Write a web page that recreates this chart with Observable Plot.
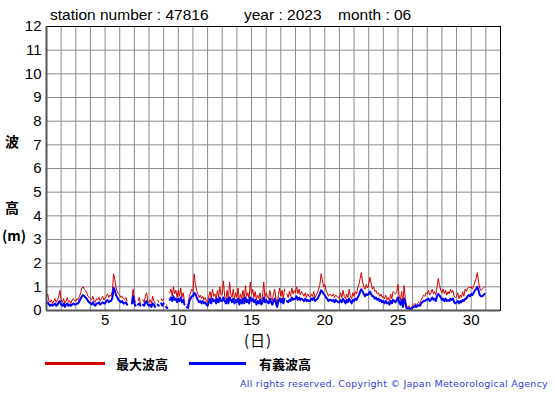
<!DOCTYPE html>
<html><head><meta charset="utf-8">
<script src="https://cdn.jsdelivr.net/npm/d3@7"></script>
<script src="https://cdn.jsdelivr.net/npm/@observablehq/plot@0.6"></script>
<style>
body{margin:0;background:#fff;}
#wrap{position:relative;width:555px;height:395px;overflow:hidden;font-family:"Liberation Sans",Arial,sans-serif;color:#000;}
.abs{position:absolute;white-space:nowrap;line-height:1;}
.cjk{font-family:"Noto Sans CJK JP","Noto Sans",sans-serif;}
</style></head><body><div id="wrap"></div>
<script>
// ---- data (2-hourly readings, June 2023, station 47816) ----
const maxWave = [
 [0.55,0.7,0.4,0.35,0.45,0.3,0.4,0.5,0.35,0.45,0.6,0.85],
 [0.45,0.35,0.5,0.3,0.4,0.55,0.35,0.4,0.3,0.45,0.5,0.4],
 [0.4,0.5,0.45,0.6,0.75,0.95,1.0,0.9,0.85,0.75,0.6,0.55],
 [0.5,0.45,0.6,0.4,0.35,0.5,0.45,0.55,0.4,0.5,0.6,0.45],
 [0.5,0.6,0.7,0.55,0.65,0.6,0.85,1.55,1.3,0.95,0.8,0.7],
 [0.65,0.55,0.6,0.5,0.45,0.55,0.4,null,null,null,0.45,0.9],
 [0.5,0.35,null,0.4,0.55,0.3,null,0.45,0.35,0.6,0.75,0.4],
 [0.35,0.45,0.3,0.6,0.4,0.3,null,0.45,0.35,null,0.5,0.4],
 [0.5,null,0.25,0.2,null,0.75,0.9,0.6,1.0,0.7,0.85,0.55],
 [0.85,0.6,0.95,0.55,0.75,0.4,null,0.25,0.2,0.6,0.75,0.9],
 [0.8,1.55,1.1,0.85,0.7,0.55,0.65,0.5,0.6,0.45,0.55,0.4],
 [0.35,0.6,0.8,0.5,0.9,0.6,0.7,0.45,0.85,0.55,1.0,0.65],
 [0.7,1.25,0.6,0.5,0.85,0.45,1.2,0.7,0.55,0.9,0.5,0.75],
 [0.55,0.95,0.4,0.7,0.5,0.85,0.45,1.05,0.6,0.75,0.5,1.2],
 [0.7,0.9,0.55,0.8,0.45,0.65,0.5,0.75,0.4,0.6,1.2,0.55],
 [0.75,0.6,0.5,0.85,0.55,0.4,0.7,0.9,0.5,0.3,0.65,0.95],
 [0.6,0.85,0.5,0.9,null,0.7,0.55,0.8,0.6,0.95,0.7,0.85],
 [0.75,1.0,0.7,0.9,0.65,0.8,0.7,0.6,0.75,0.55,0.7,0.6],
 [0.55,0.7,0.6,0.8,0.55,0.65,0.75,0.9,1.1,1.55,1.3,1.0],
 [1.1,0.85,0.75,0.6,0.7,0.65,0.6,0.7,0.55,0.65,0.6,0.55],
 [0.5,0.75,0.55,0.85,0.6,0.5,0.7,0.55,0.9,0.6,0.5,0.75],
 [0.6,0.8,0.7,0.95,1.1,1.35,1.6,1.2,1.0,0.9,1.1,0.95],
 [1.1,1.4,1.15,0.9,1.0,0.8,0.85,0.7,0.75,0.6,0.7,0.55],
 [0.6,0.5,0.65,0.45,0.55,0.4,0.7,0.5,0.8,0.75,0.7,0.8],
 [1.1,0.6,0.45,0.8,0.3,1.05,0.5,0.2,0.15,0.2,0.1,0.15],
 [0.2,0.25,0.3,0.2,0.3,0.35,0.3,0.45,0.55,0.65,0.6,0.75],
 [0.7,0.85,0.65,0.75,0.9,0.7,0.8,0.65,1.0,1.35,1.1,0.85],
 [0.75,0.9,0.7,0.85,0.65,0.8,0.7,0.9,0.75,0.85,0.6,0.55],
 [0.6,0.75,0.5,0.65,0.55,0.8,0.6,0.9,0.8,0.95,1.0,0.95],
 [1.0,0.9,1.05,1.2,1.35,1.6,1.2,0.95,0.85,0.9,0.95,1.0]
];
const sigWave = [
 [0.3,0.35,0.25,0.2,0.25,0.2,0.25,0.3,0.2,0.25,0.35,0.4],
 [0.25,0.2,0.3,0.15,0.25,0.3,0.2,0.25,0.2,0.25,0.3,0.25],
 [0.25,0.3,0.3,0.4,0.5,0.6,0.65,0.6,0.55,0.5,0.4,0.35],
 [0.3,0.25,0.35,0.25,0.2,0.3,0.3,0.35,0.25,0.3,0.35,0.3],
 [0.3,0.4,0.45,0.35,0.4,0.4,0.55,0.95,0.85,0.65,0.55,0.45],
 [0.4,0.35,0.4,0.3,0.3,0.35,0.25,null,null,null,0.3,0.6],
 [0.3,0.2,null,0.25,0.3,0.2,null,0.25,0.2,0.35,0.4,0.25],
 [0.2,0.25,0.15,0.3,0.25,0.15,null,0.25,0.2,null,0.3,0.2],
 [0.3,null,0.15,0.1,null,0.45,0.55,0.4,0.6,0.45,0.5,0.35],
 [0.5,0.4,0.55,0.35,0.45,0.25,null,0.15,0.1,0.4,0.5,0.6],
 [0.6,0.75,0.7,0.55,0.45,0.35,0.4,0.3,0.4,0.3,0.35,0.25],
 [0.2,0.35,0.5,0.3,0.5,0.4,0.45,0.3,0.5,0.35,0.55,0.4],
 [0.4,0.55,0.4,0.3,0.5,0.3,0.55,0.45,0.35,0.5,0.3,0.45],
 [0.35,0.5,0.25,0.45,0.3,0.5,0.3,0.55,0.35,0.45,0.3,0.55],
 [0.4,0.5,0.35,0.45,0.25,0.4,0.3,0.45,0.25,0.35,0.55,0.35],
 [0.45,0.35,0.3,0.5,0.35,0.25,0.4,0.5,0.3,0.15,0.4,0.5],
 [0.35,0.5,0.3,0.5,null,0.4,0.35,0.45,0.4,0.55,0.45,0.5],
 [0.5,0.6,0.45,0.55,0.45,0.5,0.45,0.4,0.5,0.4,0.45,0.4],
 [0.4,0.5,0.45,0.55,0.4,0.45,0.5,0.6,0.7,0.85,0.8,0.7],
 [0.65,0.55,0.5,0.4,0.45,0.45,0.4,0.45,0.35,0.45,0.4,0.35],
 [0.35,0.45,0.35,0.5,0.4,0.3,0.45,0.35,0.5,0.4,0.3,0.45],
 [0.4,0.5,0.45,0.55,0.65,0.8,0.9,0.8,0.7,0.6,0.7,0.65],
 [0.7,0.8,0.7,0.6,0.6,0.5,0.55,0.45,0.5,0.4,0.45,0.35],
 [0.4,0.3,0.4,0.3,0.35,0.25,0.4,0.3,0.45,0.4,0.35,0.45],
 [0.55,0.35,0.25,0.45,0.15,0.5,0.3,0.1,0.08,0.1,0.05,0.08],
 [0.12,0.15,0.2,0.15,0.2,0.22,0.2,0.3,0.35,0.4,0.4,0.45],
 [0.45,0.5,0.4,0.45,0.55,0.45,0.5,0.4,0.6,0.7,0.65,0.55],
 [0.45,0.5,0.4,0.5,0.4,0.45,0.4,0.5,0.45,0.5,0.35,0.3],
 [0.35,0.4,0.3,0.4,0.35,0.45,0.4,0.5,0.5,0.6,0.65,0.6],
 [0.7,0.65,0.75,0.85,0.9,1.0,0.85,0.65,0.6,0.6,0.65,0.7]
];
const xTicks = [5,10,15,20,25,30];
const yTicks = [0,1,2,3,4,5,6,7,8,9,10,11,12];
const gridDays = d3.range(1, 33);
const titleText = ["station number : 47816", "year : 2023", "month : 06"];
const legendLabels = ["最大波高", "有義波高"];
const colors = ["#d40000", "#0000ff"];
const copyright = "All rights reserved. Copyright © Japan Meteorological Agency";

function rows(days) {
  const out = [];
  days.forEach((vals, i) => vals.forEach((v, k) => out.push({t: i + 1 + k / 12, v: v == null ? NaN : v})));
  return out;
}
const maxRows = rows(maxWave), sigRows = rows(sigWave);

const plot = Plot.plot({
  width: 555, height: 395,
  marginLeft: 46, marginRight: 55, marginTop: 26, marginBottom: 85,
  style: {fontFamily: "'Liberation Sans', Arial, sans-serif", background: "#fff", color: "#000"},
  x: {domain: [1, 32]},
  y: {domain: [0, 12]},
  marks: [
    Plot.gridX(gridDays, {stroke: "#8a8a8a", strokeOpacity: 1, strokeWidth: 1}),
    Plot.gridY(yTicks, {stroke: "#8a8a8a", strokeOpacity: 1, strokeWidth: 1}),
    Plot.line(maxRows, {x: "t", y: "v", stroke: colors[0], strokeWidth: 1}),
    Plot.line(sigRows, {x: "t", y: "v", stroke: colors[1], strokeWidth: 2}),
    Plot.frame({stroke: "#000", strokeWidth: 1}),
    Plot.ruleX([1], {stroke: "#555", strokeWidth: 2}),
    Plot.ruleY([0], {stroke: "#555", strokeWidth: 2}),
    Plot.axisX(xTicks, {tickSize: 0, tickPadding: 4, fontSize: 15, label: null}),
    Plot.axisY(yTicks, {tickSize: 0, tickPadding: 5, fontSize: 15, label: null})
  ]
});
const wrap = document.getElementById("wrap");
wrap.appendChild(plot);

function addText(txt, x, y, css, cls, anchor) {
  const d = document.createElement("div");
  d.className = "abs " + (cls || "");
  d.textContent = txt;
  d.style.cssText += css || "";
  d.style.left = x + "px";
  d.style.top = y + "px";
  d.style.transform = anchor === "middle" ? "translate(-50%,-50%)" : "translate(0,-50%)";
  wrap.appendChild(d);
  return d;
}
// title
addText(titleText[0], 50, 15, "font-size:15.5px;");
addText(titleText[1], 244, 15, "font-size:15.5px;");
addText(titleText[2], 338, 15, "font-size:15.5px;");
// y-axis label
addText("波", 12, 141, "font-size:14px;font-weight:700;", "cjk", "middle");
addText("高", 12, 207, "font-size:14px;font-weight:700;", "cjk", "middle");
addText("(m)", 14, 235, "font-size:14px;font-weight:700;", "cjk", "middle");
// x-axis label
addText("(日)", 258, 339, "font-size:15px;letter-spacing:1px;", "cjk", "middle");
// legend
function legendLine(x1, x2, y, c) {
  const d = document.createElement("div");
  d.className = "abs";
  d.style.cssText = `left:${x1}px;top:${y - 1.5}px;width:${x2 - x1}px;height:3px;background:${c};`;
  wrap.appendChild(d);
}
legendLine(45, 105, 363, colors[0]);
addText(legendLabels[0], 116, 363, "font-size:13px;font-weight:bold;", "cjk");
legendLine(189, 246, 363, colors[1]);
addText(legendLabels[1], 259, 363, "font-size:13px;font-weight:bold;", "cjk");
// copyright
const c = addText(copyright, 240, 384, "font-size:9.5px;color:#3a3ae0;font-family:'DejaVu Sans',sans-serif;");
const w = c.getBoundingClientRect().width;
c.style.letterSpacing = ((308 - w) / copyright.length) + "px";
</script></body></html>
